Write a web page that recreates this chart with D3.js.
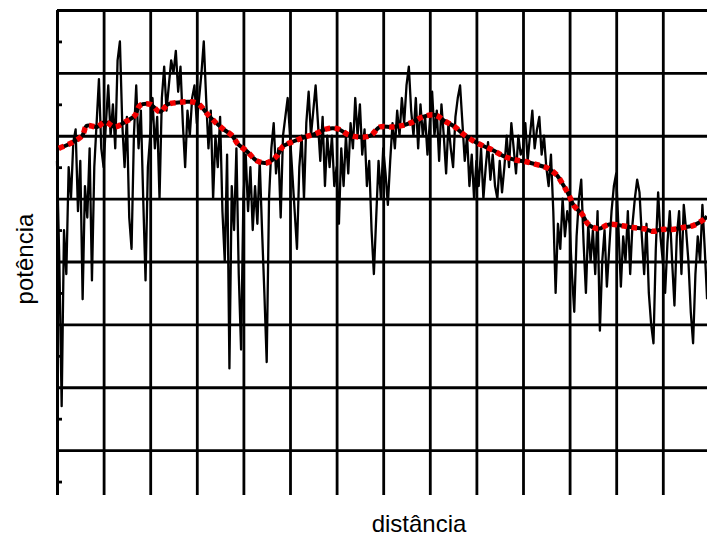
<!DOCTYPE html>
<html>
<head>
<meta charset="utf-8">
<script src="https://cdn.jsdelivr.net/npm/d3@7"></script>
<style>
  html, body { margin: 0; padding: 0; background: #fff; }
  svg { display: block; }
</style>
</head>
<body>
<svg id="chart" width="707" height="554"></svg>
<script>
// ---------------- DATA ----------------
// raw power trace, sampled every 0.5 distance units (0 .. 139.5)
const signalStep = 0.5;
const signal = [
  56,40,17,45,38,55,50,59,61,48, 56,34,52,47,58,37,55,62,69,58,
  55,62,68,60,65,58,72,75,62,55, 63,47,42,60,68,58,64,50,37,55,
  60,66,58,63,50,66,71,64,68,72, 70,73.5,67,71,62,55,64,60,66,68,
  62,66,70,75,66,58,64,50,60,55, 63,48,40,57,23,52,45,58,38,26,
  50,57,48,55,45,52,46,56,45,35, 24,50,58,62,54,58,47,60,63,66,
  60,54,48,42,55,60,50,62,67,60, 64,68,62,56,63,52,60,55,60,52,
  55,46,58,52,60,54,62,58,66,60, 65,57,61,52,56,45,38,47,56,50,
  58,54,49,56,62,58,64,60,66,62, 68,71,64,60,66,58,65,60,63,57,
  62,67,60,64,56,65,60,54,62,58, 55,63,66,68,62,56,60,52,57,50,
  56,52,58,50,55,59,53,57,52,50, 56,51,55,60,55,62,58,54,60,57,
  58,62,56,60,64,58,61,63,57,60, 55,52,57,48,35,46,42,50,44,48,
  46,38,32,44,50,53,43,35,46,40, 45,38,48,29,40,45,36,42,48,52,
  54,45,36,44,40,48,38,46,50,53, 51,44,38,46,35,30,27,42,51,44,
  40,35,43,48,40,33,44,48,38,49, 45,40,32,27,38,44,40,49,42,34
];

// smoothed trend (red dotted curve)
const trendX = [0.4,3.2,5.4,6.4,8.6,10.3,12.4,14.6,16.7,17.8,20,22.1,23.8,26,28.5,30.3,32.2,33.9,35.6,37.6,
  38.8,40.8,42.9,45.1,47.2,48.5,51.1,53.2,55.4,57.9,60.3,62.4,64.6,67.2,69.3,71.9,74,76.4,78.5,81.1,
  83.3,85.4,87.1,89.3,91.4,93.8,95.7,98.1,100.4,103,105.4,107.3,108.6,109.9,110.9,112.7,113.9,116.1,118.5,121.2,
  123.6,126,127.9,129.8,132,134.3,136.5,138.8,139.5];
const trendY = [58,58.9,60,61.6,61.4,62.2,61.4,62.2,63.2,64.8,65,63.8,65,65.3,65.4,65.1,63.5,62.2,61.1,60,
  58.7,57.5,56,55.7,56.8,58.3,59.2,59.8,60.3,61.1,61.1,60.2,59.8,60,61.4,61.4,61.6,62.2,63,63.3,
  62.3,61.4,60.3,59.2,58.4,57.6,56.8,56.2,55.9,55.4,54.8,53.7,52.2,50.5,48.9,47.5,46,45.2,45.9,45.7,
  45.4,45.2,44.8,45.1,45.1,45.4,45.7,46.7,47.2];

const hGrid = [10,20,30,40,50,60,70,80];
const vGrid = [0,10,20,30,40,50,60,70,80,90,100,110,120,130];
const minorY = [5,15,25,35,45,55,65,75];
const xLabel = "distância";
const yLabel = "potência";

// ---------------- DRAW ----------------
const svg = d3.select("#chart");
const x = d3.scaleLinear().domain([0, 140]).range([57, 709.4]);
const y = d3.scaleLinear().domain([0, 80]).range([513, 10]);
const plotRight = 707, plotBottom = 495;

svg.append("defs").append("clipPath").attr("id", "clip")
  .append("rect").attr("x", 45).attr("y", 0).attr("width", plotRight - 45).attr("height", plotBottom);

const plot = svg.append("g").attr("clip-path", "url(#clip)");

// horizontal grid (+ left border as domain)
const gy = plot.append("g").attr("transform", "translate(57,0)")
  .call(d3.axisLeft(y).tickValues(hGrid).tickSize(-(plotRight - 57)).tickSizeOuter(0).tickFormat(""));
// vertical grid (+ top border as domain)
const gx = plot.append("g").attr("transform", "translate(0,10)")
  .call(d3.axisTop(x).tickValues(vGrid).tickSize(-(plotBottom - 10)).tickSizeOuter(0).tickFormat(""));
// minor ticks on left
const gm = plot.append("g").attr("transform", "translate(57,0)")
  .call(d3.axisLeft(y).tickValues(minorY).tickSize(-5).tickSizeOuter(0).tickFormat(""));
gm.select(".domain").remove();

[gy, gx, gm].forEach(g => {
  g.selectAll("line").attr("stroke", "#000").attr("stroke-width", 2.8);
  g.selectAll(".domain").attr("stroke", "#000").attr("stroke-width", 3);
});

// raw trace
const sigLine = d3.line()
  .x((d, i) => x(i * signalStep))
  .y(d => y(d));
plot.append("path").datum(signal)
  .attr("d", sigLine)
  .attr("fill", "none").attr("stroke", "#000")
  .attr("stroke-width", 2.3).attr("stroke-linejoin", "round");

// trend
const trend = trendX.map((v, i) => [v, trendY[i]]);
const trLine = d3.line().x(d => x(d[0])).y(d => y(d[1])).curve(d3.curveCatmullRom);
plot.append("path").datum(trend).attr("d", trLine)
  .attr("fill", "none").attr("stroke", "#000").attr("stroke-width", 4);
plot.append("path").datum(trend).attr("d", trLine)
  .attr("fill", "none").attr("stroke", "#f20000").attr("stroke-width", 5.5)
  .attr("stroke-dasharray", "5.5,4.5");

// axis titles
svg.append("text").text(xLabel)
  .attr("x", 419).attr("y", 532).attr("text-anchor", "middle")
  .attr("font-family", "Liberation Sans, Arial, sans-serif").attr("font-size", 24).attr("fill", "#000");
svg.append("text").text(yLabel)
  .attr("transform", "translate(33,259) rotate(-90)").attr("text-anchor", "middle")
  .attr("font-family", "Liberation Sans, Arial, sans-serif").attr("font-size", 24).attr("fill", "#000");
</script>
</body>
</html>
